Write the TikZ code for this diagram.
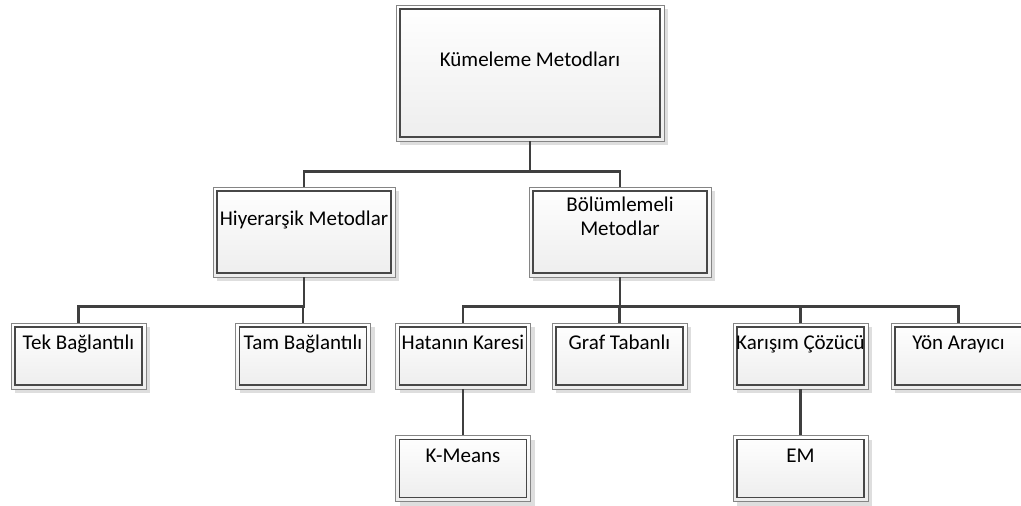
\documentclass[tikz,border=0pt]{standalone}
\usepackage{fontspec}
\setmainfont{Carlito}
\usetikzlibrary{shadows}

\definecolor{outerc}{HTML}{858585}
\definecolor{innerc}{HTML}{474747}
\definecolor{linec}{HTML}{3F3F3F}
\definecolor{shadowc}{HTML}{DEDEDE}
\definecolor{fillb}{HTML}{EDEDED}

\tikzset{
  box/.style={
    rectangle, draw=outerc, line width=0.9pt, inner sep=0pt,
    top color=white, bottom color=fillb,
    drop shadow={shadow xshift=4pt, shadow yshift=-4pt, fill=shadowc, opacity=1},
    path picture={
      \draw[innerc, line width=1.1pt]
        ([shift={(4pt,-4pt)}]path picture bounding box.north west) rectangle
        ([shift={(-4pt,4pt)}]path picture bounding box.south east);
    }
  },
  topbox/.style={box, minimum width=268pt, minimum height=136pt},
  midbox/.style={box, minimum width=182pt, minimum height=90pt},
  leafbox/.style={box, minimum width=135pt, minimum height=66pt},
  lbl/.style={anchor=base, inner sep=0pt, align=center,
    font=\fontsize{21}{24}\selectfont, text=black},
  conn/.style={draw=linec, line width=2.6pt}
}

\begin{document}
\begin{tikzpicture}[x=1pt, y=-1pt]
\useasboundingbox (0,0) rectangle (1021,506);

% boxes
\node[topbox]  (root) at (530,73)    {};
\node[midbox]  (hier) at (304,232)   {};
\node[midbox]  (part) at (620,232)   {};
\node[leafbox] (tek)  at (78.5,356)  {};
\node[leafbox] (tam)  at (303,356)   {};
\node[leafbox] (hata) at (463,356)   {};
\node[leafbox] (graf) at (619.5,356) {};
\node[leafbox] (kar)  at (800.5,356) {};
\node[leafbox] (yon)  at (958.5,356) {};
\node[leafbox] (km)   at (463,468.5) {};
\node[leafbox] (em)   at (800.5,468.5) {};

% labels (baseline of the last line)
\node[lbl] (root-t) at ([yshift=6.5pt]root.center) {Kümeleme Metodları};
\node[lbl] (hier-t) at ([yshift=6.5pt]hier.center) {Hiyerarşik Metodlar};
\node[lbl] (part-t) at ([yshift=-3pt]part.center)  {Bölümlemeli\\Metodlar};
\node[lbl] (tek-t)  at ([yshift=6.5pt]tek.center)  {Tek Bağlantılı};
\node[lbl] (tam-t)  at ([yshift=6.5pt]tam.center)  {Tam Bağlantılı};
\node[lbl] (hata-t) at ([yshift=6.5pt]hata.center) {Hatanın Karesi};
\node[lbl] (graf-t) at ([yshift=6.5pt]graf.center) {Graf Tabanlı};
\node[lbl] (kar-t)  at ([yshift=6.5pt]kar.center)  {Karışım Çözücü};
\node[lbl] (yon-t)  at ([yshift=6.5pt]yon.center)  {Yön Arayıcı};
\node[lbl] (km-t)   at ([yshift=6.5pt]km.center)   {K-Means};
\node[lbl] (em-t)   at ([yshift=6.5pt]em.center)   {EM};

% junction points of the tree
\coordinate (j0) at ([yshift=-30pt]root.south);
\coordinate (j1) at ([yshift=-29pt]hier.south);
\coordinate (j2) at ([yshift=-29pt]part.south);

% connectors
\draw[conn] (root.south) -- (j0) -| (hier.north);
\draw[conn] (j0) -| (part.north);
\draw[conn] (hier.south) -- (j1) -| (tek.north);
\draw[conn] (j1) -| (tam.north);
\draw[conn] (part.south) -- (j2) -| (graf.north);
\draw[conn] (j2) -| (hata.north);
\draw[conn] (j2) -| (kar.north);
\draw[conn] (j2) -| (yon.north);
\draw[conn] (hata.south) -- (km.north);
\draw[conn] (kar.south) -- (em.north);
\end{tikzpicture}
\end{document}
